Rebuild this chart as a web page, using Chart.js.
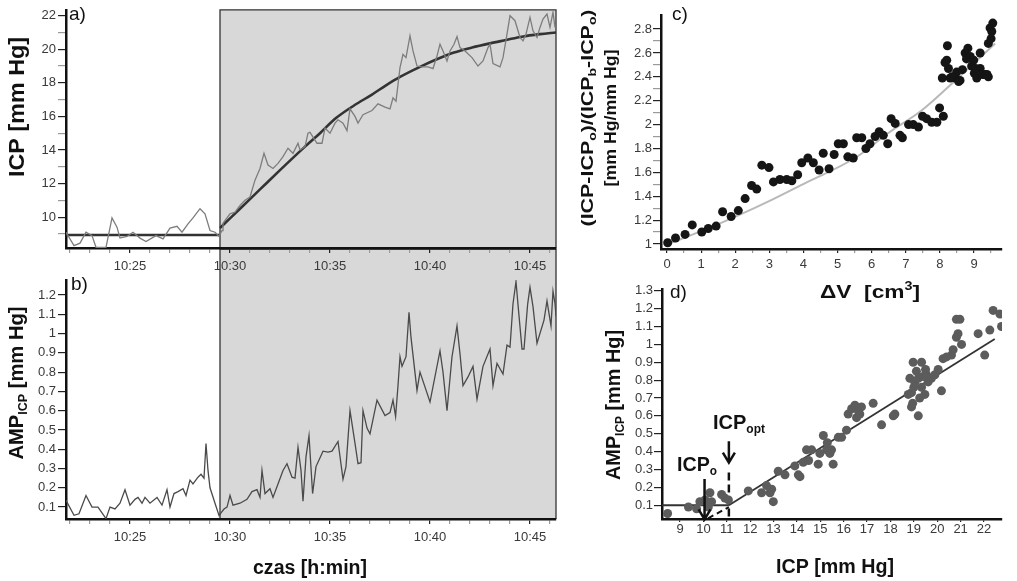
<!DOCTYPE html>
<html>
<head>
<meta charset="utf-8">
<script src="https://cdn.jsdelivr.net/npm/chart.js@4.4.1/dist/chart.umd.min.js"></script>
<style>
  html, body { margin: 0; padding: 0; background: #fff; }
  #wrap { position: relative; width: 1017px; height: 581px; overflow: hidden; }
  .panel { position: absolute; }
</style>
</head>
<body>
<div id="wrap">
  <div class="panel" style="left:0;top:248px;width:560px;height:333px;z-index:1"><canvas id="chartB"></canvas></div>
  <div class="panel" style="left:0;top:0;width:560px;height:280px;z-index:2"><canvas id="chartA"></canvas></div>
  <div class="panel" style="left:570px;top:280px;width:447px;height:301px;z-index:1"><canvas id="chartD"></canvas></div>
  <div class="panel" style="left:570px;top:0;width:447px;height:310px;z-index:2"><canvas id="chartC"></canvas></div>
</div>
<script>
// ---- a) ICP vs time (minutes after 10:00) ----
const icpTime = [21.8, 22.2, 22.5, 22.8, 23.1, 23.3, 23.8, 24.1, 24.35, 24.5, 24.85, 25.15, 25.5, 25.8, 26.3, 26.65,
  27.0, 27.35, 27.6, 27.9, 28.15, 28.5, 28.75, 29.0, 29.25, 29.45, 29.6, 29.65, 30.0, 30.25, 30.5, 30.75, 31.0,
  31.25, 31.5, 31.7, 31.9, 32.15, 32.4, 32.65, 32.9, 33.15, 33.4, 33.5, 33.75, 33.9, 34.0, 34.35, 34.6, 34.75,
  35.0, 35.25, 35.4, 35.65, 35.85, 36.0, 36.25, 36.4, 36.65, 37.1, 37.4, 37.75, 38.0, 38.15, 38.3, 38.5, 38.65,
  38.8, 39.0, 39.15, 39.35, 39.6, 39.9, 40.15, 40.35, 40.5, 40.65, 40.85, 41.0, 41.2, 41.35, 41.5, 41.75, 42.1,
  42.4, 42.65, 42.9, 43.0, 43.15, 43.5, 43.65, 43.85, 44.0, 44.25, 44.5, 44.65, 44.8, 45.0, 45.15, 45.35, 45.5,
  45.65, 45.85, 46.0, 46.15, 46.25];
const icpValue = [9.1, 8.3, 8.45, 9.1, 8.9, 8.2, 8.2, 9.95, 9.4, 8.75, 8.85, 9.1, 8.75, 8.55, 8.9, 8.7,
  9.35, 9.45, 9.1, 9.6, 9.95, 10.5, 10.2, 9.2, 9.1, 8.85, 9.2, 9.63, 10.2, 10.3, 10.7, 11.0, 11.2,
  12.2, 12.9, 13.8, 13.1, 12.9, 13.2, 13.6, 14.1, 13.8, 14.4, 14.0, 14.2, 15.0, 15.05, 14.4, 14.4, 15.3,
  15.0, 15.6, 15.8, 15.6, 15.15, 16.45, 16.0, 15.6, 16.1, 16.35, 16.75, 16.55, 16.45, 17.1, 16.9, 18.9, 19.7,
  19.5, 20.8, 19.9, 19.0, 18.95, 18.95, 18.85, 19.6, 20.3, 19.9, 19.3, 19.9, 20.3, 20.75, 20.1, 19.9, 19.5,
  19.0, 19.3, 20.1, 20.3, 19.15, 18.95, 19.5, 20.9, 22.0, 21.7, 20.7, 20.5, 20.9, 21.9, 21.1, 20.7, 21.3,
  21.8, 22.1, 21.3, 22.2, 21.3];
const baseTime = [21.8, 29.5];
const baseIcp = [8.93, 8.93];
const fitTime = [29.5, 30.5, 31.5, 32.5, 33.75, 34.5, 35.3, 36.2, 37.1, 37.8, 38.5, 39.5, 40.4, 41.2, 42.1, 43.0, 43.8, 44.6, 45.5, 46.3];
const fitIcp = [9.35, 10.5, 11.65, 12.8, 14.2, 15.0, 15.9, 16.65, 17.3, 17.85, 18.35, 18.95, 19.43, 19.8, 20.1, 20.35, 20.55, 20.75, 20.9, 21.0];
const infusionStart = 29.5;

// ---- b) AMP vs time ----
const ampTime = [21.8, 22.2, 22.45, 22.8, 23.1, 23.4, 23.8, 24.0, 24.25, 24.5, 24.75, 25.0, 25.25, 25.4, 25.6, 25.75,
  26.0, 26.35, 26.6, 26.85, 27.0, 27.2, 27.4, 27.65, 27.8, 28.0, 28.15, 28.4, 28.55, 28.7, 28.8, 28.9, 29.0,
  29.25, 29.45, 29.7, 29.85, 30.0, 30.15, 30.5, 30.85, 31.1, 31.35, 31.5, 31.6, 31.75, 32.0, 32.15, 32.4, 32.65,
  32.85, 33.1, 33.25, 33.4, 33.55, 33.65, 33.8, 33.95, 34.13, 34.3, 34.65, 34.9, 35.1, 35.4, 35.65, 35.8, 36.0,
  36.25, 36.4, 36.55, 36.65, 36.85, 37.0, 37.35, 37.75, 38.0, 38.15, 38.28, 38.4, 38.5, 38.6, 38.8, 38.95, 39.05,
  39.35, 39.5, 40.0, 40.5, 40.65, 40.85, 41.1, 41.35, 41.5, 41.65, 41.9, 42.15, 42.35, 42.65, 43.0, 43.15, 43.35,
  43.65, 43.85, 44.0, 44.15, 44.3, 44.4, 44.6, 44.7, 44.88, 45.0, 45.15, 45.35, 45.7, 45.85, 46.05, 46.15, 46.25, 46.3];
const ampValue = [0.135, 0.057, 0.065, 0.16, 0.10, 0.10, 0.04, 0.10, 0.09, 0.12, 0.19, 0.11, 0.14, 0.15, 0.12, 0.15,
  0.12, 0.15, 0.11, 0.19, 0.10, 0.17, 0.18, 0.195, 0.16, 0.24, 0.22, 0.255, 0.27, 0.25, 0.43, 0.29, 0.20,
  0.12, 0.057, 0.09, 0.10, 0.16, 0.11, 0.12, 0.14, 0.18, 0.19, 0.15, 0.29, 0.17, 0.195, 0.15, 0.22, 0.29,
  0.325, 0.255, 0.25, 0.41, 0.29, 0.13, 0.36, 0.47, 0.17, 0.31, 0.39, 0.385, 0.39, 0.44, 0.245, 0.31, 0.60,
  0.43, 0.325, 0.33, 0.60, 0.51, 0.48, 0.655, 0.575, 0.59, 0.655, 0.57, 0.73, 0.88, 0.83, 0.88, 1.11, 0.98,
  0.705, 0.80, 0.645, 0.91, 0.80, 0.60, 0.88, 1.04, 0.895, 0.73, 0.775, 0.83, 0.66, 0.83, 0.92, 0.73, 0.845,
  0.79, 0.94, 0.93, 1.155, 1.27, 1.15, 0.92, 0.92, 1.15, 1.24, 1.14, 0.95, 1.07, 1.17, 1.04, 1.22, 1.155, 1.09];

const minuteTicks = [22, 23, 24, 25, 26, 27, 28, 29, 30, 31, 32, 33, 34, 35, 36, 37, 38, 39, 40, 41, 42, 43, 44, 45, 46];
const icpTicks = [9, 10, 11, 12, 13, 14, 15, 16, 17, 18, 19, 20, 21, 22];
const ampTicks = [0.1, 0.2, 0.3, 0.4, 0.5, 0.6, 0.7, 0.8, 0.9, 1, 1.1, 1.2];

// ---- c) normalised ICP vs added volume ----
const dV = [0.02, 0.25, 0.53, 0.74, 1.02, 1.21, 1.44, 1.63, 1.88, 2.09, 2.29, 2.48, 2.63, 2.78, 2.99, 3.12, 3.31, 3.51,
  3.66, 3.83, 3.95, 4.13, 4.29, 4.46, 4.58, 4.75, 4.90, 5.02, 5.17, 5.30, 5.46, 5.56, 5.71, 5.83, 5.95, 6.10, 6.22,
  6.34, 6.47, 6.57, 6.69, 6.83, 6.90, 7.08, 7.22, 7.37, 7.49, 7.61, 7.76, 7.91, 7.99, 8.10, 8.07, 8.22, 8.20, 8.25,
  8.30, 8.45, 8.49, 8.59, 8.66, 8.74, 8.82, 8.89, 8.93, 8.99, 9.01, 9.08, 9.18, 9.18, 9.31, 9.42, 9.42, 9.47, 9.52,
  9.55, 8.15, 8.35, 8.55, 8.78, 9.05, 9.25, 9.38, 9.5];
const ratio = [1.01, 1.05, 1.08, 1.16, 1.10, 1.13, 1.15, 1.27, 1.23, 1.28, 1.38, 1.49, 1.46, 1.66, 1.64, 1.52, 1.54, 1.54,
  1.53, 1.58, 1.68, 1.72, 1.68, 1.62, 1.76, 1.63, 1.75, 1.84, 1.84, 1.73, 1.72, 1.89, 1.89, 1.80, 1.84, 1.90, 1.94,
  1.91, 1.84, 2.05, 2.01, 1.91, 1.89, 2.00, 2.00, 1.98, 2.07, 2.05, 2.02, 2.02, 2.14, 2.07, 2.39, 2.66, 2.54, 2.47,
  2.39, 2.39, 2.44, 2.37, 2.46, 2.60, 2.64, 2.57, 2.49, 2.54, 2.43, 2.39, 2.47, 2.60, 2.42, 2.40, 2.68, 2.81, 2.78,
  2.85, 2.52, 2.40, 2.36, 2.55, 2.47, 2.42, 2.42, 2.72];
const ratioFitX = [0.04, 1.11, 2.09, 3.07, 4.05, 5.51, 6.49, 7.47, 8.45, 9.62];
const ratioFitY = [1.0, 1.12, 1.24, 1.37, 1.51, 1.72, 1.93, 2.12, 2.37, 2.68];
const dvTicks = [0, 0.5, 1, 1.5, 2, 2.5, 3, 3.5, 4, 4.5, 5, 5.5, 6, 6.5, 7, 7.5, 8, 8.5, 9, 9.5];
const ratioTicks = [1, 1.1, 1.2, 1.3, 1.4, 1.5, 1.6, 1.7, 1.8, 1.9, 2, 2.1, 2.2, 2.3, 2.4, 2.5, 2.6, 2.7, 2.8];

// ---- d) AMP vs ICP ----
const icpD = [8.47, 9.36, 9.71, 9.85, 10.07, 10.21, 10.28, 10.35, 10.78, 10.92, 11.07, 11.92, 12.49, 12.70, 12.85, 12.92,
  12.99, 13.20, 13.49, 13.91, 14.06, 14.13, 14.27, 14.41, 14.63, 14.91, 14.98, 15.13, 15.27, 15.41, 15.48, 15.55,
  15.77, 15.91, 16.12, 16.19, 16.34, 16.48, 16.55, 16.62, 16.69, 16.76, 17.26, 17.62, 18.12, 18.19, 18.76, 18.83,
  18.90, 18.90, 18.97, 19.04, 19.11, 19.19, 19.19, 19.33, 19.33, 19.40, 19.47, 19.54, 19.61, 19.75, 19.90, 20.04,
  20.18, 20.25, 20.40, 20.61, 20.68, 20.82, 20.82, 20.89, 20.97, 21.04, 21.75, 22.03, 22.25, 22.39, 22.68, 22.75,
  19.0, 19.25, 18.95, 19.5, 14.5, 15.3];
const ampD = [0.054, 0.09, 0.08, 0.12, 0.13, 0.09, 0.17, 0.12, 0.16, 0.14, 0.13, 0.18, 0.17, 0.21, 0.17, 0.19,
  0.12, 0.29, 0.27, 0.32, 0.27, 0.26, 0.34, 0.41, 0.41, 0.33, 0.39, 0.49, 0.41, 0.39, 0.41, 0.33,
  0.48, 0.48, 0.52, 0.61, 0.64, 0.66, 0.59, 0.63, 0.61, 0.65, 0.67, 0.55, 0.60, 0.61, 0.72, 0.81,
  0.65, 0.73, 0.90, 0.79, 0.85, 0.60, 0.81, 0.90, 0.76, 0.82, 0.72, 0.83, 0.79, 0.81, 0.83, 0.86,
  0.74, 0.92, 0.93, 0.94, 0.97, 1.14, 1.04, 1.06, 1.14, 1.00, 1.06, 0.94, 1.08, 1.19, 1.17, 1.10,
  0.76, 0.70, 0.67, 0.86, 0.35, 0.45];
const regX = [11.09, 22.46];
const regY = [0.1, 1.03];
const plateauX = [8.23, 11.09];
const plateauY = [0.1, 0.1];
const extrapX = [10.2, 11.09];
const extrapY = [0.027, 0.09];
const optLineX = [11.09, 11.09];
const optLineY = [0.283, 0.023];
const icpDTicks = [9, 10, 11, 12, 13, 14, 15, 16, 17, 18, 19, 20, 21, 22];
const ampDTicks = [0.1, 0.2, 0.3, 0.4, 0.5, 0.6, 0.7, 0.8, 0.9, 1, 1.1, 1.2, 1.3];

const FONT = '"Liberation Sans", Arial, sans-serif';
Chart.defaults.font.family = FONT;
Chart.defaults.animation = false;

const pts = (xs, ys) => xs.map((x, i) => ({ x, y: ys[i] }));

function richText(ctx, t) {
  ctx.save();
  ctx.translate(t.x, t.y);
  if (t.rot) ctx.rotate(t.rot);
  const w = t.bold === false ? '' : 'bold ';
  const f = k => w + (k ? Math.round(t.size * 0.62) : t.size) + 'px ' + FONT;
  let total = 0;
  t.parts.forEach(([s, k]) => { ctx.font = f(k); total += ctx.measureText(s).width; });
  if (t.len) ctx.scale(t.len / total, 1);
  let cx = t.align === 'left' ? 0 : -total / 2;
  ctx.textBaseline = 'middle';
  ctx.fillStyle = '#111';
  t.parts.forEach(([s, k]) => {
    ctx.font = f(k);
    ctx.fillText(s, cx, k === 1 ? t.size * 0.32 : k === 2 ? -t.size * 0.32 : 0);
    cx += ctx.measureText(s).width;
  });
  ctx.restore();
}

const decor = {
  id: 'decor',
  beforeDraw(chart, args, o) {
    if (o.shadeFrom === undefined) return;
    const { ctx, chartArea: a } = chart;
    const x0 = chart.scales.x.getPixelForValue(o.shadeFrom);
    const top = o.shadeTop === undefined ? a.top : o.shadeTop;
    ctx.save();
    ctx.fillStyle = '#d8d8d8';
    ctx.fillRect(x0, top, a.right - x0, a.bottom - top);
    ctx.strokeStyle = '#333';
    ctx.lineWidth = 1.3;
    ctx.beginPath();
    ctx.moveTo(x0, a.bottom); ctx.lineTo(x0, top); ctx.lineTo(a.right, top); ctx.lineTo(a.right, a.bottom);
    ctx.stroke();
    ctx.restore();
  },
  afterDraw(chart, args, o) {
    const { ctx } = chart;
    (o.arrows || []).forEach(ar => {
      const px = chart.scales.x.getPixelForValue(ar.x);
      const y1 = chart.scales.y.getPixelForValue(ar.y1);
      const y2 = chart.scales.y.getPixelForValue(ar.y2);
      ctx.save();
      ctx.strokeStyle = '#111';
      ctx.lineWidth = 2.5;
      ctx.beginPath();
      ctx.moveTo(px, y1); ctx.lineTo(px, y2);
      ctx.moveTo(px - 6, y2 - 10); ctx.lineTo(px, y2); ctx.lineTo(px + 6, y2 - 10);
      ctx.stroke();
      ctx.restore();
    });
    (o.texts || []).forEach(t => richText(ctx, t));
  }
};
Chart.register(decor);

function axis(o) {
  return {
    type: 'linear',
    min: o.min,
    max: o.max,
    afterFit: s => { if (o.w) s.width = o.w; if (o.h) s.height = o.h; },
    afterBuildTicks: s => { s.ticks = o.ticks.map(v => ({ value: v })); },
    grid: {
      drawOnChartArea: false,
      tickLength: o.tl,
      lineWidth: 1.2,
      tickColor: c => (o.major && c.tick && !o.major(c.tick.value)) ? '#9a9a9a' : '#222'
    },
    border: { color: '#111', width: 2.5 },
    ticks: {
      autoSkip: false,
      maxRotation: 0,
      padding: o.pad,
      color: '#3a3a3a',
      font: { size: 13, family: FONT },
      callback: v => (!o.major || o.major(v)) ? (o.fmt ? o.fmt(v) : v) : ''
    }
  };
}

const baseOptions = (scales, decorOpts, padding) => ({
  responsive: true,
  maintainAspectRatio: false,
  layout: { padding },
  scales,
  elements: { line: { tension: 0 } },
  plugins: { legend: { display: false }, tooltip: { enabled: false }, decor: decorOpts }
});

const timeFmt = v => '10:' + v;
const every5 = v => v % 5 === 0;

// a)
new Chart(document.getElementById('chartA'), {
  type: 'scatter',
  data: {
    datasets: [
      { data: pts(icpTime, icpValue), showLine: true, borderColor: '#7d7d7d', borderWidth: 1.3, pointRadius: 0 },
      { data: pts(baseTime, baseIcp), showLine: true, borderColor: '#333', borderWidth: 2.5, pointRadius: 0 },
      { data: pts(fitTime, fitIcp), showLine: true, borderColor: '#333', borderWidth: 2.6, pointRadius: 0, cubicInterpolationMode: 'monotone' }
    ]
  },
  options: baseOptions({
    x: axis({ min: 21.8, max: 46.3, ticks: minuteTicks, h: 32, tl: 5, pad: 6, major: every5, fmt: timeFmt }),
    y: axis({ min: 8.16, max: 22.35, ticks: icpTicks, w: 66, tl: 8, pad: 2, major: v => v % 2 === 0 })
  }, {
    shadeFrom: infusionStart,
    texts: [
      { x: 69, y: 15, parts: [['a)', 0]], size: 19, bold: false, align: 'left' },
      { x: 18, y: 107, rot: -Math.PI / 2, parts: [['ICP [mm Hg]', 0]], size: 22, len: 140 }
    ]
  }, { top: 9, right: 4, left: 0, bottom: 0 })
});

// b)
new Chart(document.getElementById('chartB'), {
  type: 'scatter',
  data: {
    datasets: [
      { data: pts(ampTime, ampValue), showLine: true, borderColor: '#4a4a4a', borderWidth: 1.3, pointRadius: 0 }
    ]
  },
  options: baseOptions({
    x: axis({ min: 21.8, max: 46.3, ticks: minuteTicks, h: 62, tl: 5, pad: 6, major: every5, fmt: timeFmt }),
    y: axis({ min: 0.038, max: 1.278, ticks: ampTicks, w: 66, tl: 8, pad: 2 })
  }, {
    shadeFrom: infusionStart,
    shadeTop: 1,
    texts: [
      { x: 71, y: 37, parts: [['b)', 0]], size: 19, bold: false, align: 'left' },
      { x: 17, y: 135, rot: -Math.PI / 2, parts: [['AMP', 0], ['ICP', 1], [' [mm Hg]', 0]], size: 21, len: 153 },
      { x: 310, y: 320, parts: [['czas [h:min]', 0]], size: 20, len: 114 }
    ]
  }, { top: 32, right: 4, left: 0, bottom: 0 })
});

// c)
new Chart(document.getElementById('chartC'), {
  type: 'scatter',
  data: {
    datasets: [
      { data: pts(dV, ratio), backgroundColor: '#151515', borderWidth: 0, pointRadius: 4.5 },
      { data: pts(ratioFitX, ratioFitY), showLine: true, borderColor: '#b9b9b9', borderWidth: 2, pointRadius: 0, cubicInterpolationMode: 'monotone' }
    ]
  },
  options: baseOptions({
    x: axis({ min: -0.176, max: 9.82, ticks: dvTicks, h: 61, tl: 4, pad: 4, major: v => Number.isInteger(v) }),
    y: axis({ min: 0.958, max: 2.918, ticks: ratioTicks, w: 91, tl: 8, pad: 1, major: v => Math.round(v * 10) % 2 === 0 })
  }, {
    texts: [
      { x: 102, y: 15, parts: [['c)', 0]], size: 19, bold: false, align: 'left' },
      { x: 18, y: 118, rot: -Math.PI / 2, size: 17, len: 217,
        parts: [['(ICP-ICP', 0], ['o', 1], [')/(ICP', 0], ['b', 1], ['-ICP', 0], ['o', 1], [')', 0]] },
      { x: 41, y: 118, rot: -Math.PI / 2, size: 17, len: 137, parts: [['[mm Hg/mm Hg]', 0]] },
      { x: 300, y: 293, size: 19, len: 100, parts: [['\u0394V  [cm', 0], ['3', 2], [']', 0]] }
    ]
  }, { top: 15, right: 15, left: 0, bottom: 0 })
});

// d)
new Chart(document.getElementById('chartD'), {
  type: 'scatter',
  data: {
    datasets: [
      { data: pts(icpD, ampD), backgroundColor: '#5c5c5c', borderWidth: 0, pointRadius: 4.5 },
      { data: pts(regX, regY), showLine: true, borderColor: '#333', borderWidth: 1.8, pointRadius: 0 },
      { data: pts(plateauX, plateauY), showLine: true, borderColor: '#333', borderWidth: 1.8, pointRadius: 0 },
      { data: pts(extrapX, extrapY), showLine: true, borderColor: '#111', borderWidth: 2, borderDash: [6, 4], pointRadius: 0 },
      { data: pts(optLineX, optLineY), showLine: true, borderColor: '#111', borderWidth: 2.5, borderDash: [8, 4], pointRadius: 0 }
    ]
  },
  options: baseOptions({
    x: axis({ min: 8.23, max: 22.77, ticks: icpDTicks, h: 62, tl: 3, pad: 0 }),
    y: axis({ min: 0.023, max: 1.311, ticks: ampDTicks, w: 92, tl: 8, pad: 1 })
  }, {
    arrows: [
      { x: 10.05, y1: 0.247, y2: 0.021 },
      { x: 11.09, y1: 0.458, y2: 0.339 }
    ],
    texts: [
      { x: 100, y: 13, parts: [['d)', 0]], size: 19, bold: false, align: 'left' },
      { x: 44, y: 125, rot: -Math.PI / 2, parts: [['AMP', 0], ['ICP', 1], [' [mm Hg]', 0]], size: 20, len: 150 },
      { x: 265, y: 287, parts: [['ICP [mm Hg]', 0]], size: 20, len: 118 },
      { x: 127, y: 185, parts: [['ICP', 0], ['o', 1]], size: 20, len: 40 },
      { x: 169, y: 143, parts: [['ICP', 0], ['opt', 1]], size: 20, len: 52 }
    ]
  }, { top: 5, right: 15, left: 0, bottom: 0 })
});
</script>
</body>
</html>
